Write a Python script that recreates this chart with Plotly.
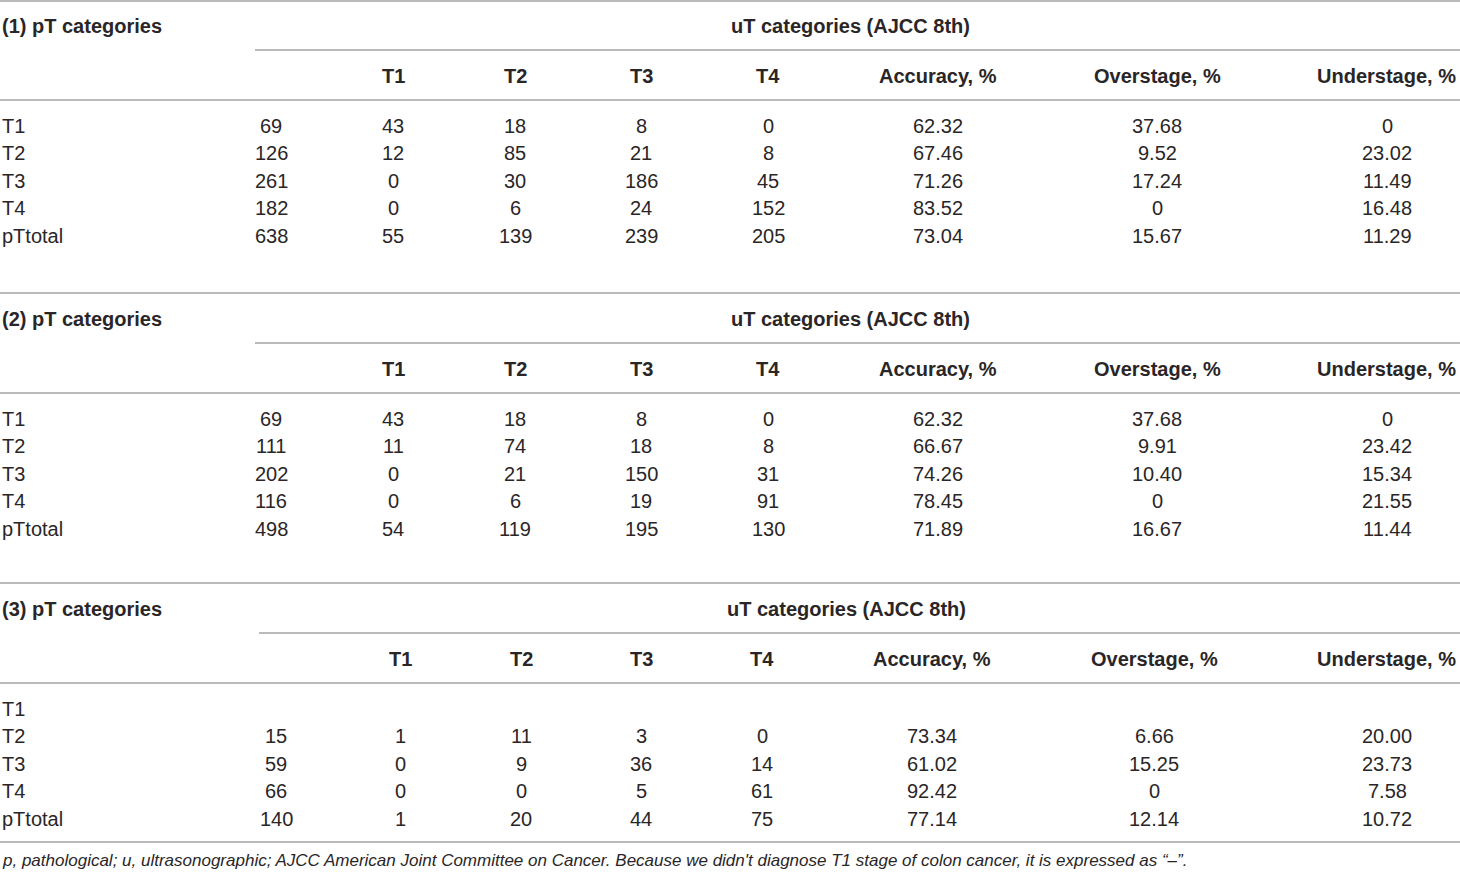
import plotly.graph_objects as go

# table contents
row_labels = ["T1", "T2", "T3", "T4", "pTtotal"]
col_headers = ["", "T1", "T2", "T3", "T4", "Accuracy, %", "Overstage, %", "Understage, %"]
section_titles = ["(1) pT categories", "(2) pT categories", "(3) pT categories"]
group_title = "uT categories (AJCC 8th)"

table1 = [
    ["69", "43", "18", "8", "0", "62.32", "37.68", "0"],
    ["126", "12", "85", "21", "8", "67.46", "9.52", "23.02"],
    ["261", "0", "30", "186", "45", "71.26", "17.24", "11.49"],
    ["182", "0", "6", "24", "152", "83.52", "0", "16.48"],
    ["638", "55", "139", "239", "205", "73.04", "15.67", "11.29"],
]
table2 = [
    ["69", "43", "18", "8", "0", "62.32", "37.68", "0"],
    ["111", "11", "74", "18", "8", "66.67", "9.91", "23.42"],
    ["202", "0", "21", "150", "31", "74.26", "10.40", "15.34"],
    ["116", "0", "6", "19", "91", "78.45", "0", "21.55"],
    ["498", "54", "119", "195", "130", "71.89", "16.67", "11.44"],
]
table3 = [
    ["", "", "", "", "", "", "", ""],
    ["15", "1", "11", "3", "0", "73.34", "6.66", "20.00"],
    ["59", "0", "9", "36", "14", "61.02", "15.25", "23.73"],
    ["66", "0", "0", "5", "61", "92.42", "0", "7.58"],
    ["140", "1", "20", "44", "75", "77.14", "12.14", "10.72"],
]
footnote = ("p, pathological; u, ultrasonographic; AJCC American Joint Committee on Cancer. "
            "Because we didn't diagnose T1 stage of colon cancer, it is expressed as \u201c\u2013\u201d.")

tables = [table1, table2, table3]

# layout constants (pixels)
W, H = 1460, 873
section_top = [1, 293, 583]
section_bottom = [293, 583, 842]
col_x = [
    [271, 393, 515, 641, 768, 938, 1157, 1387],
    [271, 393, 515, 641, 768, 938, 1157, 1387],
    [276, 400, 521, 641, 762, 932, 1154, 1387],
]
group_x = [850, 850, 846]
partial_start = [255, 255, 259]
row_dy = [126, 153, 181, 208, 236]

FONT = "Liberation Sans"
TXT = "#2a2627"
LINE = "#a3a3a3"
FS = 20

fig = go.Figure()
annotations = []
shapes = []


def text(x, y, s, anchor="center", bold=False, italic=False, size=FS):
    annotations.append(dict(
        x=x, y=y, xref="x", yref="y", text=s, showarrow=False,
        xanchor=anchor, yanchor="middle",
        font=dict(family=FONT, size=size, color=TXT,
                  weight="bold" if bold else "normal",
                  style="italic" if italic else "normal"),
    ))


def hline(y, x0=0, x1=W):
    shapes.append(dict(type="line", xref="x", yref="y", x0=x0, x1=x1, y0=y, y1=y,
                       line=dict(color=LINE, width=1.6)))


for s in range(3):
    top = section_top[s]
    base = section_top[s] if s else 0
    hline(top)
    text(0, base + 26, section_titles[s], anchor="left", bold=True)
    text(group_x[s], base + 26, group_title, bold=True)
    hline(base + 50, x0=partial_start[s])
    for c, h in enumerate(col_headers):
        if h:
            # last header sits flush with the right edge
            if c == len(col_headers) - 1:
                text(W - 2, base + 76, h, anchor="right", bold=True)
            else:
                text(col_x[s][c], base + 76, h, bold=True)
    hline(base + 100)
    for r, lab in enumerate(row_labels):
        y = base + row_dy[r]
        text(0, y, lab, anchor="left")
        for c, v in enumerate(tables[s][r]):
            if v:
                text(col_x[s][c], y, v)
hline(section_bottom[2])
text(0, 860, footnote, anchor="left", italic=True, size=17)

fig.update_layout(
    width=W, height=H,
    margin=dict(l=0, r=0, t=0, b=0),
    paper_bgcolor="white", plot_bgcolor="white",
    xaxis=dict(range=[0, W], visible=False, fixedrange=True),
    yaxis=dict(range=[H, 0], visible=False, fixedrange=True),
    annotations=annotations, shapes=shapes,
    showlegend=False,
)

fig.write_html("out.html", config={"displayModeBar": False},
               post_script="document.body.style.margin='0';document.body.style.overflow='hidden';")
